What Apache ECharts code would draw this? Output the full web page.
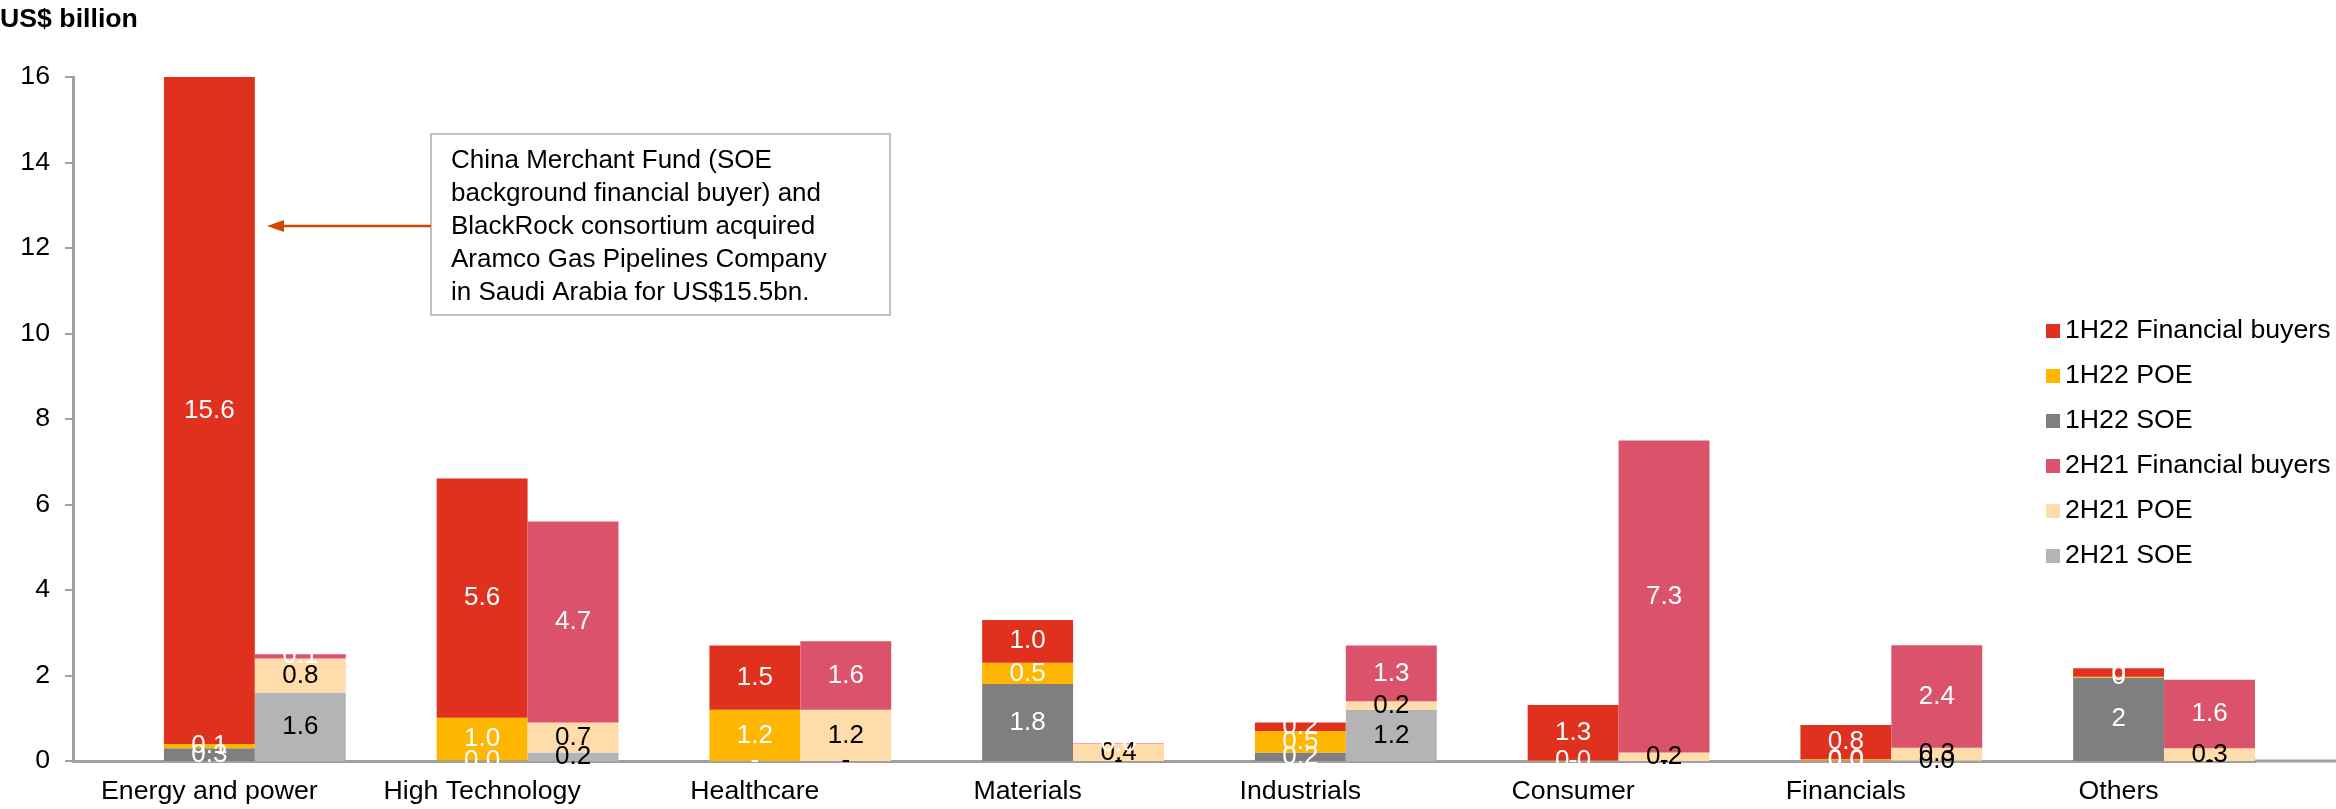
<!DOCTYPE html>
<html>
<head>
<meta charset="utf-8">
<title>Outbound M&A by sector: 1H22 vs 2H21</title>
<script src="https://cdn.jsdelivr.net/npm/echarts@6/dist/echarts.min.js"></script>
<style>
  html, body { margin: 0; padding: 0; background: #ffffff; }
  #chart { width: 2336px; height: 809px; }
</style>
</head>
<body>
<div id="chart"></div>
<script>
// Sectors on the category axis
const categories = ['Energy and power', 'High Technology', 'Healthcare', 'Materials',
                    'Industrials', 'Consumer', 'Financials', 'Others'];

// 1H22 deal values by buyer type (US$ billion)
const soe1H22 = [0.3, 0.01, 0, 1.8, 0.2, 0, 0.01, 1.95];
const poe1H22 = [0.1, 1.0, 1.2, 0.5, 0.5, 0.01, 0.03, 0.02];
const fin1H22 = [15.6, 5.6, 1.5, 1.0, 0.2, 1.3, 0.8, 0.2];

// 2H21 deal values by buyer type (US$ billion)
const soe2H21 = [1.6, 0.2, 0, 0, 1.2, 0, 0.01, 0];
const poe2H21 = [0.8, 0.7, 1.2, 0.4, 0.2, 0.2, 0.3, 0.3];
const fin2H21 = [0.1, 4.7, 1.6, 0.01, 1.3, 7.3, 2.4, 1.6];

// Value-axis ticks
const yTicks = [0, 2, 4, 6, 8, 10, 12, 14, 16];

const FONT = '"Liberation Sans", Arial, sans-serif';
const FS = 26.7;

function fmt(v, decimals) {
  if (v === 0) return '-';
  return v.toFixed(decimals);
}

function segment(name, stack, data, color, labelColor, intOnOthers) {
  return {
    name: name,
    type: 'bar',
    stack: stack,
    data: data,
    barGap: '0%',
    barCategoryGap: '0%',
    itemStyle: { color: color },
    label: {
      show: true,
      position: 'inside',
      color: labelColor,
      fontFamily: FONT,
      fontSize: 26,
      formatter: function (p) {
        const d = (intOnOthers && categories[p.dataIndex] === 'Others') ? 0 : 1;
        return fmt(p.value, d);
      }
    },
    labelLayout: { hideOverlap: false },
    emphasis: { disabled: true }
  };
}

const chart = echarts.init(document.getElementById('chart'), null, { renderer: 'canvas' });

const option = {
  animation: false,
  backgroundColor: '#ffffff',
  grid: { left: 73, right: 81, top: 77, bottom: 48, containLabel: false },
  legend: {
    orient: 'vertical',
    left: 2046,
    top: 316,
    padding: 0,
    itemWidth: 14,
    itemHeight: 14,
    itemGap: 15,
    icon: 'rect',
    selectedMode: false,
    data: ['1H22 Financial buyers', '1H22 POE', '1H22 SOE',
           '2H21 Financial buyers', '2H21 POE', '2H21 SOE'],
    textStyle: { fontFamily: FONT, fontSize: FS, color: '#000000', lineHeight: 30 }
  },
  xAxis: {
    type: 'category',
    data: categories,
    axisLine: { show: true, lineStyle: { color: '#a0a0a0', width: 3 } },
    axisTick: { show: false },
    axisLabel: { fontFamily: FONT, fontSize: FS, color: '#000000', margin: 17, interval: 0 }
  },
  yAxis: {
    type: 'value',
    min: yTicks[0],
    max: yTicks[yTicks.length - 1],
    interval: yTicks[1] - yTicks[0],
    splitLine: { show: false },
    axisLine: { show: true, lineStyle: { color: '#a0a0a0', width: 3 } },
    axisTick: { show: true, length: 8, lineStyle: { color: '#a0a0a0', width: 2 } },
    axisLabel: { fontFamily: FONT, fontSize: FS, color: '#000000', margin: 23 }
  },
  series: [
    // empty slot left of each cluster, so the 1H22 column sits on the tick
    { name: 'spacer', type: 'bar', stack: 'spacer', data: categories.map(() => null),
      barGap: '0%', barCategoryGap: '0%', silent: true },
    segment('1H22 SOE', '1H22', soe1H22, '#7f7f7f', '#ffffff', true),
    segment('1H22 POE', '1H22', poe1H22, '#ffb600', '#ffffff', true),
    segment('1H22 Financial buyers', '1H22', fin1H22, '#e0301e', '#ffffff', true),
    segment('2H21 SOE', '2H21', soe2H21, '#b4b4b4', '#000000', false),
    segment('2H21 POE', '2H21', poe2H21, '#ffdca9', '#000000', false),
    segment('2H21 Financial buyers', '2H21', fin2H21, '#db536a', '#ffffff', false)
  ],
  graphic: [
    {
      type: 'text', left: 0, top: 6,
      style: { text: 'US$ billion', fontFamily: FONT, fontSize: FS, fontWeight: 'bold', fill: '#000000' }
    },
    // axis baseline runs on to the right edge, under the legend
    {
      type: 'line',
      shape: { x1: 2255, y1: 761, x2: 2336, y2: 761 },
      style: { stroke: '#a0a0a0', lineWidth: 3 }
    },
    // callout box
    {
      type: 'rect',
      shape: { x: 431, y: 134, width: 459, height: 181 },
      style: { fill: '#ffffff', stroke: '#c0c0c0', lineWidth: 2 }
    },
    {
      type: 'text', x: 451, y: 144,
      style: {
        text: 'China Merchant Fund (SOE\nbackground financial buyer) and\nBlackRock consortium acquired\nAramco Gas Pipelines Company\nin Saudi Arabia for US$15.5bn.',
        fontFamily: FONT, fontSize: 26, lineHeight: 33, fill: '#000000'
      }
    },
    // arrow from the callout to the Energy and power column
    {
      type: 'line',
      shape: { x1: 431, y1: 226, x2: 280, y2: 226 },
      style: { stroke: '#d04a02', lineWidth: 2.5 }
    },
    {
      type: 'polygon',
      shape: { points: [[267, 226], [284, 220], [284, 232]] },
      style: { fill: '#d04a02' }
    }
  ]
};

chart.setOption(option);
</script>
</body>
</html>
